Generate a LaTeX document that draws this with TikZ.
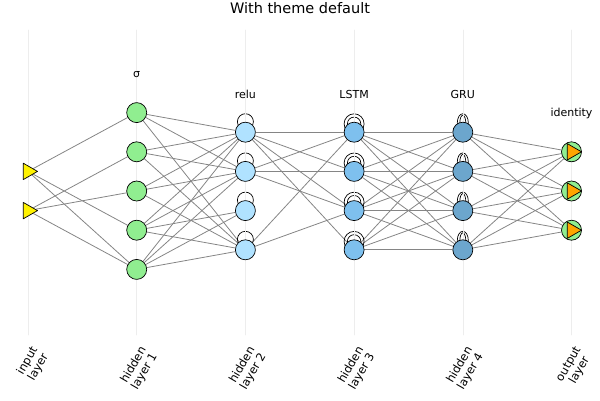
\documentclass[tikz,border=0pt]{standalone}
\usepackage{fontspec}
\setmainfont{DejaVu Sans}
\usetikzlibrary{shapes.geometric,backgrounds}
\definecolor{layA}{HTML}{90EE90}
\definecolor{layB}{HTML}{B0E2FF}
\definecolor{layC}{HTML}{7EC0EE}
\definecolor{layD}{HTML}{6CA6CD}
\definecolor{outmark}{HTML}{FFA500}
\definecolor{wiregray}{HTML}{858585}
\definecolor{gridgray}{HTML}{EDEDED}
\begin{document}
\begin{tikzpicture}[x=1pt,y=1pt,line join=round,line cap=round,
	neuron/.style={circle,draw,line width=0.7pt,inner sep=0pt,minimum size=20pt},
	trineuron/.style={regular polygon,regular polygon sides=3,shape border rotate=-90,draw,line width=0.7pt,inner sep=0pt,minimum size=19pt},
	outneuron/.style={neuron,fill=layA,path picture={
		\draw[fill=outmark,line width=0.7pt] ([xshift=10pt]path picture bounding box.center)--++(-14.25pt,8.2pt)--++(0,-16.4pt)--cycle;}},
	wire/.style={draw=wiregray,line width=0.8pt},
	selfloop/.style={line width=0.7pt},
	layername/.style={font=\fontsize{11}{13}\selectfont},
	ticklabel/.style={rotate=60,anchor=east,align=center,inner sep=1pt,font=\fontsize{11.5}{12.5}\selectfont}]
	\def\yc{-191} \def\dy{39.2}
	\def\xa{28} \def\xb{136.7} \def\xc{245.4} \def\xd{354.1} \def\xe{462.8} \def\xf{571.5}
	\useasboundingbox (0,0) rectangle (600,-400);
	% grid lines
	\foreach \x in {\xa,\xb,\xc,\xd,\xe,\xf}
		\draw[gridgray,line width=0.6pt] (\x,-30)--(\x,-335);
	\node[font=\fontsize{14.5}{16}\selectfont] (title) at (300,-8) {With theme default};
	% neurons
	\foreach \k in {1,2}
		\node[trineuron,fill=yellow] (i\k) at (\xa,{\yc-(\k-1.5)*\dy}) {};
	\foreach \k in {1,...,5}
		\node[neuron,fill=layA] (a\k) at (\xb,{\yc-(\k-3)*\dy}) {};
	\foreach \k in {1,...,4}{
		\node[neuron,fill=layB] (b\k) at (\xc,{\yc-(\k-2.5)*\dy}) {};
		\node[neuron,fill=layC] (c\k) at (\xd,{\yc-(\k-2.5)*\dy}) {};
		\node[neuron,fill=layD] (d\k) at (\xe,{\yc-(\k-2.5)*\dy}) {};
	}
	\foreach \k in {1,2,3}
		\node[outneuron] (o\k) at (\xf,{\yc-(\k-2)*\dy}) {};
	% layer names
	\node[layername] (nA) at ([yshift=38pt]a1.center) {σ};
	\node[layername] (nB) at ([yshift=38pt]b1.center) {relu};
	\node[layername] (nC) at ([yshift=38pt]c1.center) {LSTM};
	\node[layername] (nD) at ([yshift=38pt]d1.center) {GRU};
	\node[layername] (nE) at ([yshift=38pt]o1.center) {identity};
	% axis labels
	\node[ticklabel] (tA) at (\xa+13,-350) {input\\layer};
	\node[ticklabel] (tB) at (\xb+13,-350) {hidden\\layer 1};
	\node[ticklabel] (tC) at (\xc+13,-350) {hidden\\layer 2};
	\node[ticklabel] (tD) at (\xd+13,-350) {hidden\\layer 3};
	\node[ticklabel] (tE) at (\xe+13,-350) {hidden\\layer 4};
	\node[ticklabel] (tF) at (\xf+13,-350) {output\\layer};
	\begin{pgfonlayer}{background}
		% connections
		\foreach \s/\t in {1/1,1/4,1/5,2/2,2/3,2/5}
			\draw[wire] (i\s)--(a\t);
		\foreach \s/\t in {1/1,1/2,1/4,2/1,2/2,2/4,3/1,3/2,3/4,4/1,4/2,4/3,4/4,5/1,5/2,5/3,5/4}
			\draw[wire] (a\s)--(b\t);
		\foreach \s/\t in {1/1,1/2,1/3,1/4,2/1,2/2,2/3,4/1,4/3}
			\draw[wire] (b\s)--(c\t);
		\foreach \s in {1,...,4}
			\foreach \t in {1,...,4}
				\draw[wire] (c\s)--(d\t);
		\foreach \s in {1,...,4}
			\foreach \t in {1,2,3}
				\draw[wire] (d\s)--(o\t);
		% recurrent loops
		\foreach \k in {1,...,4}{
			\draw[selfloop] ([yshift=10.5pt]b\k.center) circle (8pt);
			\draw[selfloop] ([yshift=8.4pt]c\k.center) circle (10pt);
			\draw[selfloop] ([yshift=8.4pt]c\k.center) circle (6.7pt);
			\draw[selfloop] ([yshift=9.5pt]d\k.center) ellipse (5.5pt and 9pt);
			\draw[selfloop] ([yshift=9pt]d\k.center) ellipse (3pt and 8pt);
		}
	\end{pgfonlayer}
\end{tikzpicture}
\end{document}
